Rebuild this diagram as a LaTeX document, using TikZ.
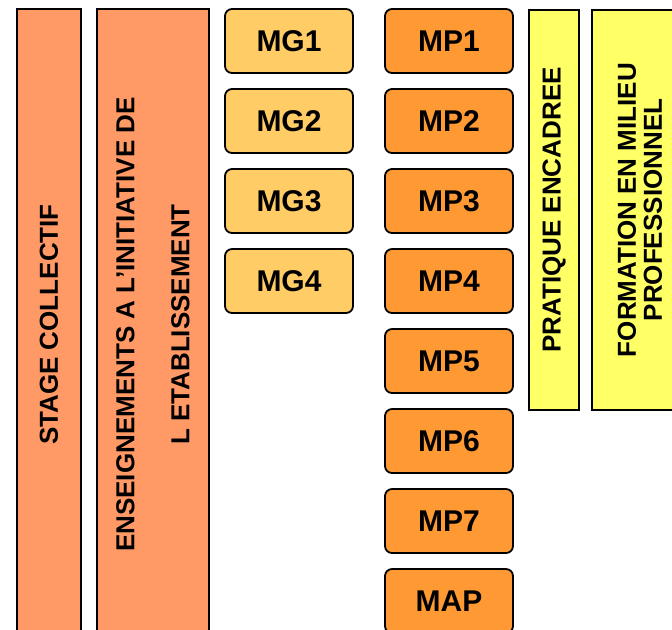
\documentclass[tikz,border=0pt]{standalone}
\usepackage{fontspec}
\setmainfont{Liberation Sans}
\usepackage{xcolor}
\usepackage{tikz}
\usetikzlibrary{positioning}

\definecolor{salmon}{HTML}{FF9966}
\definecolor{mgfill}{HTML}{FFCC66}
\definecolor{mpfill}{HTML}{FF9933}
\definecolor{lemon}{HTML}{FFFF66}

\begin{document}
\begin{tikzpicture}[
  x=0.5pt, y=-0.5pt,
  node distance=8pt,
  box/.style={draw=black, line width=0.9pt, rounded corners=3.5pt, align=center, font=\fontsize{15}{18}\selectfont\bfseries, minimum width=64pt, minimum height=32pt, inner sep=0pt, outer sep=0pt},
  mg/.style={box, fill=mgfill},
  mp/.style={box, fill=mpfill},
  tall/.style={draw=black, line width=0.9pt, rotate=90, align=center, inner sep=0pt, outer sep=0pt, font=\fontsize{13}{13}\selectfont\bfseries},
  pillar/.style={tall, fill=salmon, minimum width=315.5pt},
  band/.style={tall, fill=lemon, minimum width=200pt}
]
\useasboundingbox (0,0) rectangle (672,629);
% pillars on the left
\node[pillar, minimum height=32pt] (stage) at (49,324.5) {STAGE COLLECTIF};
\node[pillar, minimum height=56pt, font=\fontsize{13}{27.5}\selectfont\bfseries] (etab) at (153,324.5) {ENSEIGNEMENTS A L’INITIATIVE DE\\L ETABLISSEMENT};
% general modules
\node[mg] (mg1) at (289,41) {MG1};
\node[mg, below=of mg1] (mg2) {MG2};
\node[mg, below=of mg2] (mg3) {MG3};
\node[mg, below=of mg3] (mg4) {MG4};
% professional modules
\node[mp] (mp1) at (449,41) {MP1};
\node[mp, below=of mp1] (mp2) {MP2};
\node[mp, below=of mp2] (mp3) {MP3};
\node[mp, below=of mp3] (mp4) {MP4};
\node[mp, below=of mp4] (mp5) {MP5};
\node[mp, below=of mp5] (mp6) {MP6};
\node[mp, below=of mp6] (mp7) {MP7};
\node[mp, below=of mp7] (map) {MAP};
% yellow bands
\node[band, minimum height=25pt] (prat) at (554,210) {PRATIQUE ENCADREE};
\node[band, minimum height=48pt] (fmp) at (640,210) {FORMATION EN MILIEU\\PROFESSIONNEL};
\end{tikzpicture}
\end{document}
